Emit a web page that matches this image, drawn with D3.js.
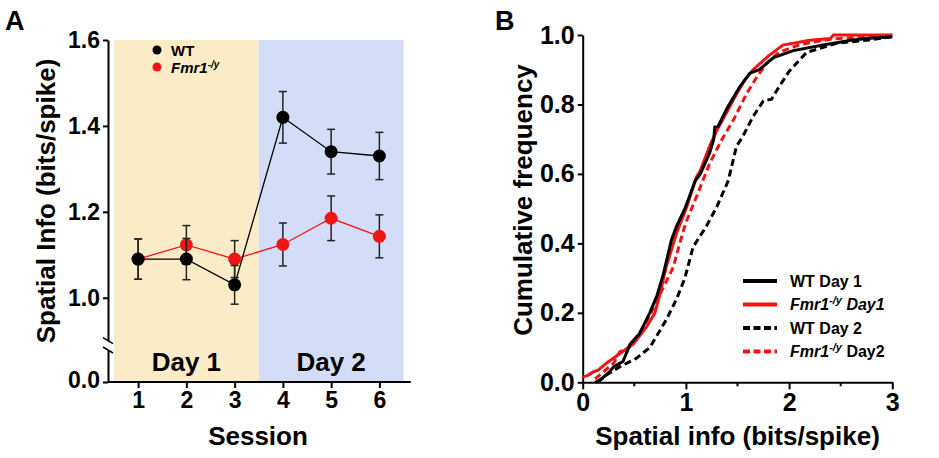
<!DOCTYPE html>
<html>
<head>
<meta charset="utf-8">
<script src="https://cdn.jsdelivr.net/npm/d3@7"></script>
<style>
  body { margin: 0; background: #fff; }
  svg { display: block; font-family: "Liberation Sans", Arial, sans-serif; font-weight: bold; }
</style>
</head>
<body>
<svg id="chart" width="939" height="458"></svg>
<script>
// ---- panel A data ----
const sessions = [1, 2, 3, 4, 5, 6];
const wtMean = [1.09, 1.09, 1.03, 1.42, 1.34, 1.33];
const wtErr  = [0.047, 0.048, 0.045, 0.06, 0.052, 0.055];
const koMean = [1.09, 1.123, 1.09, 1.124, 1.185, 1.143];
const koErr  = [0.047, 0.045, 0.043, 0.05, 0.052, 0.05];
const yTicksA = [1.0, 1.2, 1.4, 1.6];
const dayLabels = ["Day 1", "Day 2"];

// ---- panel B data (cumulative curves, [spatial info, frequency]) ----
const wtDay1 = [[0.12,0],[0.17,0.007],[0.26,0.03],[0.3,0.045],[0.39,0.06],[0.46,0.11],[0.55,0.14],[0.65,0.2],
  [0.72,0.25],[0.78,0.31],[0.86,0.41],[0.91,0.45],[0.99,0.5],[1.09,0.58],[1.14,0.6],[1.23,0.66],[1.27,0.7],
  [1.28,0.735],[1.31,0.736],[1.40,0.79],[1.52,0.85],[1.62,0.89],[1.71,0.9],[1.85,0.935],[2.04,0.955],
  [2.33,0.971],[2.6,0.985],[2.75,0.99],[3.0,0.995]];
const koDay1 = [[0,0.015],[0.05,0.02],[0.1,0.03],[0.15,0.035],[0.23,0.055],[0.3,0.07],[0.36,0.083],[0.49,0.11],
  [0.62,0.16],[0.70,0.2],[0.75,0.256],[0.81,0.333],[0.91,0.43],[1.01,0.506],[1.10,0.59],[1.14,0.61],[1.23,0.68],
  [1.30,0.726],[1.40,0.78],[1.49,0.83],[1.57,0.87],[1.65,0.9],[1.81,0.942],[1.94,0.971],[2.2,0.985],[2.4,0.99],
  [2.43,1.0],[3.0,1.0]];
const wtDay2 = [[0.14,0],[0.23,0.021],[0.36,0.045],[0.52,0.069],[0.65,0.10],[0.75,0.15],[0.81,0.18],[0.91,0.24],
  [0.99,0.30],[1.07,0.39],[1.2,0.45],[1.30,0.506],[1.41,0.58],[1.49,0.68],[1.55,0.707],[1.65,0.765],[1.75,0.81],
  [1.83,0.815],[1.90,0.85],[2.0,0.895],[2.07,0.918],[2.17,0.95],[2.46,0.976],[2.75,0.985],[3.0,0.995]];
const koDay2 = [[0.12,0.01],[0.2,0.03],[0.3,0.055],[0.36,0.088],[0.45,0.1],[0.59,0.16],[0.68,0.21],[0.77,0.266],
  [0.88,0.333],[0.94,0.40],[1.0,0.46],[1.09,0.525],[1.23,0.63],[1.35,0.7],[1.46,0.755],[1.59,0.832],[1.69,0.88],
  [1.78,0.918],[1.9,0.95],[2.1,0.972],[2.4,0.988],[3.0,1.0]];
const xTicksB = [0, 1, 2, 3];
const yTicksB = [0, 0.2, 0.4, 0.6, 0.8, 1.0];

const RED = "#f01414";
const svg = d3.select("#chart");

function styleAxis(g, size) {
  g.selectAll("path.domain").attr("stroke", "#000").attr("stroke-width", 2);
  g.selectAll(".tick line").attr("stroke", "#000").attr("stroke-width", 2);
  g.selectAll(".tick text").attr("font-family", "Liberation Sans, Arial, sans-serif")
    .attr("font-weight", "bold").attr("font-size", size).attr("fill", "#000");
}

// ================= panel A =================
const xA = d3.scaleLinear().domain([0.5, 6.5]).range([114, 403.5]);
const yA = d3.scaleLinear().domain([0.9, 1.6]).range([340.7, 40]);
const yA0 = d3.scaleLinear().domain([0, 0.075]).range([382, 350]);

// shaded days
svg.append("rect").attr("x", xA(0.5)).attr("y", yA(1.6))
  .attr("width", xA(3.5) - xA(0.5)).attr("height", 382 - yA(1.6)).attr("fill", "#fcebc7");
svg.append("rect").attr("x", xA(3.5)).attr("y", yA(1.6))
  .attr("width", xA(6.5) - xA(3.5)).attr("height", 382 - yA(1.6)).attr("fill", "#d3ddf7");

svg.selectAll(".day").data(dayLabels).enter().append("text")
  .attr("x", (d, i) => xA(i === 0 ? 2 : 5)).attr("y", 371)
  .attr("text-anchor", "middle").attr("font-size", 26).text(d => d);

// axes
const gyA = svg.append("g").attr("transform", "translate(108,0)")
  .call(d3.axisLeft(yA).tickValues(yTicksA).tickFormat(d3.format(".1f")).tickSize(5).tickSizeOuter(0).tickPadding(3));
styleAxis(gyA, 23);
const gyA0 = svg.append("g").attr("transform", "translate(108,0)")
  .call(d3.axisLeft(yA0).tickValues([0]).tickFormat(d3.format(".1f")).tickSize(5).tickSizeOuter(0).tickPadding(3));
styleAxis(gyA0, 23);
gyA0.select(".tick text").attr("dy", "0.25em");
// break marks
[yA(0.9), yA0(0.075)].forEach(y => {
  svg.append("line").attr("x1", 103).attr("y1", y - 3).attr("x2", 113).attr("y2", y + 3)
    .attr("stroke", "#000").attr("stroke-width", 1.5);
});

const gxA = svg.append("g").attr("transform", "translate(0,382)")
  .call(d3.axisBottom(xA).tickValues(sessions).tickFormat(d3.format("d")).tickSize(6).tickSizeOuter(0).tickPadding(4));
styleAxis(gxA, 23);
gxA.select("path.domain").attr("d", `M108,0H${xA(6.65)}`);

svg.append("text").attr("x", 258).attr("y", 445).attr("text-anchor", "middle")
  .attr("font-size", 26).text("Session");
svg.append("text").attr("transform", "translate(55,201) rotate(-90)")
  .attr("text-anchor", "middle").attr("font-size", 26).text("Spatial Info (bits/spike)");
svg.append("text").attr("x", 5).attr("y", 30).attr("font-size", 27).text("A");

function drawSeries(mean, err, color) {
  const g = svg.append("g");
  g.append("path").datum(sessions.map((s, i) => [s, mean[i]]))
    .attr("fill", "none").attr("stroke", color).attr("stroke-width", 1.3)
    .attr("d", d3.line().x(d => xA(d[0])).y(d => yA(d[1])));
  sessions.forEach((s, i) => {
    const x = xA(s), y1 = yA(mean[i] + err[i]), y2 = yA(mean[i] - err[i]);
    g.append("line").attr("x1", x).attr("x2", x).attr("y1", y1).attr("y2", y2)
      .attr("stroke", "#222").attr("stroke-width", 1.5);
    [y1, y2].forEach(y => g.append("line").attr("x1", x - 4).attr("x2", x + 4).attr("y1", y).attr("y2", y)
      .attr("stroke", "#222").attr("stroke-width", 1.5));
  });
  g.selectAll("circle").data(sessions).enter().append("circle")
    .attr("cx", s => xA(s)).attr("cy", (s, i) => yA(mean[i])).attr("r", 6.5).attr("fill", color);
}
drawSeries(koMean, koErr, RED);
drawSeries(wtMean, wtErr, "#000");

// legend A
const legA = svg.append("g").attr("font-size", 15);
legA.append("circle").attr("cx", 157).attr("cy", 50).attr("r", 4.5).attr("fill", "#000");
legA.append("text").attr("x", 171).attr("y", 55.5).text("WT");
legA.append("circle").attr("cx", 157).attr("cy", 67).attr("r", 4.5).attr("fill", RED);
const tA = legA.append("text").attr("x", 171).attr("y", 72.5).attr("font-style", "italic");
tA.append("tspan").text("Fmr1");
tA.append("tspan").attr("dy", -5).attr("font-size", 10).text("-/y");

// ================= panel B =================
const xB = d3.scaleLinear().domain([0, 3]).range([582.7, 892.3]);
const yB = d3.scaleLinear().domain([0, 1]).range([382.3, 35]);

const gxB = svg.append("g").attr("transform", "translate(0,382.3)")
  .call(d3.axisBottom(xB).tickValues(xTicksB).tickFormat(d3.format("d")).tickSize(7).tickSizeOuter(0).tickPadding(4));
styleAxis(gxB, 25);
gxB.selectAll(".minor").data([0.5, 1.5, 2.5]).enter().append("line")
  .attr("x1", d => xB(d)).attr("x2", d => xB(d)).attr("y1", 0).attr("y2", 4)
  .attr("stroke", "#000").attr("stroke-width", 2);
const gyB = svg.append("g").attr("transform", "translate(582.7,0)")
  .call(d3.axisLeft(yB).tickValues(yTicksB).tickFormat(d3.format(".1f")).tickSize(5).tickSizeOuter(0).tickPadding(3));
styleAxis(gyB, 25);

const lineB = d3.line().x(d => xB(d[0])).y(d => yB(d[1]));
const curves = [
  { data: wtDay2, color: "#000", dash: "7,4" },
  { data: koDay2, color: RED, dash: "7,4" },
  { data: koDay1, color: RED, dash: null },
  { data: wtDay1, color: "#000", dash: null }
];
curves.forEach(c => {
  svg.append("path").datum(c.data).attr("fill", "none").attr("stroke", c.color)
    .attr("stroke-width", 3).attr("stroke-dasharray", c.dash).attr("d", lineB);
});

svg.append("text").attr("x", 737.5).attr("y", 445).attr("text-anchor", "middle")
  .attr("font-size", 26).text("Spatial info (bits/spike)");
svg.append("text").attr("transform", "translate(532,200) rotate(-90)")
  .attr("text-anchor", "middle").attr("font-size", 26).text("Cumulative frequency");
svg.append("text").attr("x", 495).attr("y", 30).attr("font-size", 27).text("B");

// legend B
const legendB = [
  { color: "#000", dash: null, parts: [["WT Day 1", "normal", false]] },
  { color: RED, dash: null, parts: [["Fmr1", "italic", false], ["-/y", "italic", true], [" Day1", "italic", false]] },
  { color: "#000", dash: "7,3.5", parts: [["WT Day 2", "normal", false]] },
  { color: RED, dash: "7,3.5", parts: [["Fmr1", "italic", false], ["-/y", "italic", true], [" Day2", "normal", false]] }
];
const legY = [281, 304.5, 328, 351.5];
legendB.forEach((l, i) => {
  svg.append("line").attr("x1", 743).attr("x2", 777).attr("y1", legY[i]).attr("y2", legY[i])
    .attr("stroke", l.color).attr("stroke-width", 4).attr("stroke-dasharray", l.dash);
  const t = svg.append("text").attr("x", 790).attr("y", legY[i] + 5.5).attr("font-size", 16);
  let sup = false;
  l.parts.forEach(p => {
    const ts = t.append("tspan").attr("font-style", p[1]).text(p[0]);
    if (p[2]) { ts.attr("dy", -6).attr("font-size", 11); sup = true; }
    else if (sup) { ts.attr("dy", 6); sup = false; }
  });
});
</script>
</body>
</html>
